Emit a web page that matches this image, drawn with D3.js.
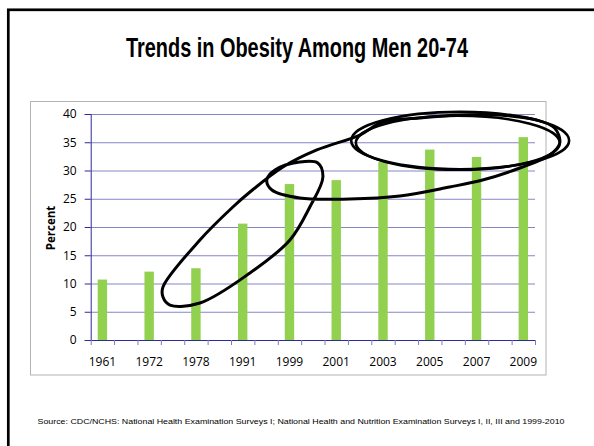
<!DOCTYPE html>
<html>
<head>
<meta charset="utf-8">
<script src="https://cdn.jsdelivr.net/npm/d3@7"></script>
<style>
  body { margin: 0; background: #fff; }
  svg { display: block; }
</style>
</head>
<body>
<div id="graph"></div>
<script>
// survey years and obesity percent (men 20-74)
const years = ['1961', '1972', '1978', '1991', '1999', '2001', '2003', '2005', '2007', '2009'];
const percent = [10.7, 12.1, 12.7, 20.6, 27.6, 28.3, 31.5, 33.7, 32.4, 35.9];
const yTicks = [0, 5, 10, 15, 20, 25, 30, 35, 40];

// hand drawn annotation loops, in [slot, percent] units
const loopPoints = [
    [3.09, 7.61], [3.39, 6.19], [4.67, 6.55], [6.81, 11.86], [8.52, 17.7], [9.37, 23.54],
    [9.93, 28.85], [9.71, 31.33], [8.94, 31.5], [7.88, 30.09], [7.53, 28.32], [7.75, 26.55],
    [8.94, 25.13], [11.08, 24.96], [13.22, 25.49], [15.35, 27.08], [16.76, 28.32], [18.35, 30.44],
    [19.63, 32.74], [20.06, 34.87], [19.84, 37.52], [19.07, 38.94], [17.49, 39.82], [15.78, 39.82],
    [14.07, 39.29], [12.49, 38.58], [11.51, 36.28], [9.67, 33.63], [8.22, 30.62], [6.81, 26.19],
    [6.08, 23.54], [4.67, 17.7], [3.09, 9.38]
];
const ovalCenter = [15.7, 34.9];
const ovalRadius = [4.36, 4.78];

const w = 594;
const h = 446;
const plot = {left: 90.7, right: 535, top: 114, bottom: 340};
const slots = years.length * 2 - 1;

const svg = d3.select('#graph')
    .append('svg')
    .attr('width', w)
    .attr('height', h);

// slide frame
svg.append('rect')
    .attr('x', 8.3)
    .attr('y', 9.8)
    .attr('width', 620)
    .attr('height', 480)
    .attr('fill', 'none')
    .attr('stroke', '#000')
    .attr('stroke-width', 2.7);

svg.append('text')
    .attr('x', 297)
    .attr('y', 57)
    .attr('text-anchor', 'middle')
    .attr('textLength', 342)
    .attr('lengthAdjust', 'spacingAndGlyphs')
    .style('font-family', '"Liberation Sans Narrow", "Liberation Sans", Arial, sans-serif')
    .style('font-weight', 'bold')
    .style('font-size', '27px')
    .text('Trends in Obesity Among Men 20-74');

// chart area box
svg.append('rect')
    .attr('x', 30.5)
    .attr('y', 101.5)
    .attr('width', 515.5)
    .attr('height', 273.5)
    .attr('fill', 'none')
    .attr('stroke', '#b3b3b3')
    .attr('stroke-width', 1);

const xScale = d3.scaleLinear()
    .domain([0, slots])
    .range([plot.left, plot.right]);

const yScale = d3.scaleLinear()
    .domain([0, 40])
    .range([plot.bottom, plot.top]);

// gridlines
svg.append('g')
    .selectAll('line')
    .data(yTicks.filter(d => d > 0))
    .enter()
    .append('line')
    .attr('x1', plot.left)
    .attr('x2', plot.right)
    .attr('y1', d => yScale(d) + 0.5)
    .attr('y2', d => yScale(d) + 0.5)
    .attr('stroke', '#8585c6')
    .attr('stroke-width', 1);

svg.selectAll('rect.bar')
    .data(percent)
    .enter()
    .append('rect')
    .attr('class', 'bar')
    .attr('x', (d, i) => xScale(i * 2 + 0.5) - 4.7)
    .attr('y', d => yScale(d))
    .attr('width', 9.4)
    .attr('height', d => yScale(0) - yScale(d))
    .attr('fill', '#92d050');

const yAxis = d3.axisLeft(yScale)
    .tickValues(yTicks)
    .tickSize(6)
    .tickPadding(8);

const gy = svg.append('g')
    .attr('transform', 'translate(' + plot.left + ',0)')
    .call(yAxis);

const xAxis = d3.axisBottom(xScale)
    .tickValues(d3.range(slots + 1))
    .tickSize(5)
    .tickSizeOuter(0)
    .tickFormat('');

const gx = svg.append('g')
    .attr('transform', 'translate(0,' + plot.bottom + ')')
    .call(xAxis);

[gx, gy].forEach(function (g) {
    g.select('.domain').attr('stroke', '#2b2b9b');
    g.selectAll('.tick line').attr('stroke', '#7b7bbf');
    g.selectAll('.tick text')
        .attr('fill', '#000')
        .style('font-family', '"Open Sans", sans-serif')
        .style('font-size', '12px');
});
gy.selectAll('.tick line').attr('stroke', '#2b2b9b');

svg.append('g')
    .selectAll('text')
    .data(years)
    .enter()
    .append('text')
    .attr('x', (d, i) => xScale(i * 2 + 0.5))
    .attr('y', 366)
    .attr('text-anchor', 'middle')
    .style('font-family', '"Open Sans", sans-serif')
    .style('font-size', '12px')
    .text(d => d);

svg.append('text')
    .attr('transform', 'translate(55,228) rotate(-90)')
    .attr('text-anchor', 'middle')
    .style('font-family', '"Open Sans", sans-serif')
    .style('font-weight', 'bold')
    .style('font-size', '11.5px')
    .text('Percent');

// annotation loops
const loopLine = d3.line()
    .x(d => xScale(d[0]))
    .y(d => yScale(d[1]))
    .curve(d3.curveCatmullRomClosed);

svg.append('path')
    .attr('d', loopLine(loopPoints))
    .attr('fill', 'none')
    .attr('stroke', '#000')
    .attr('stroke-width', 3);

[[0, 0, 0], [0.1, 0.4, 0.3]].forEach(function (o) {
    svg.append('ellipse')
        .attr('cx', xScale(ovalCenter[0] + o[0]))
        .attr('cy', yScale(ovalCenter[1] + o[1]))
        .attr('rx', xScale(ovalRadius[0] + o[2]) - xScale(0))
        .attr('ry', yScale(0) - yScale(ovalRadius[1] + o[2]))
        .attr('fill', 'none')
        .attr('stroke', '#000')
        .attr('stroke-width', 2.6);
});

svg.append('text')
    .attr('x', 301)
    .attr('y', 424)
    .attr('text-anchor', 'middle')
    .attr('textLength', 527)
    .attr('lengthAdjust', 'spacingAndGlyphs')
    .style('font-family', '"Liberation Sans", Arial, sans-serif')
    .style('font-size', '8px')
    .text('Source: CDC/NCHS: National Health Examination Surveys I; National Health and Nutrition Examination Surveys I, II, III and 1999-2010');
</script>
</body>
</html>
